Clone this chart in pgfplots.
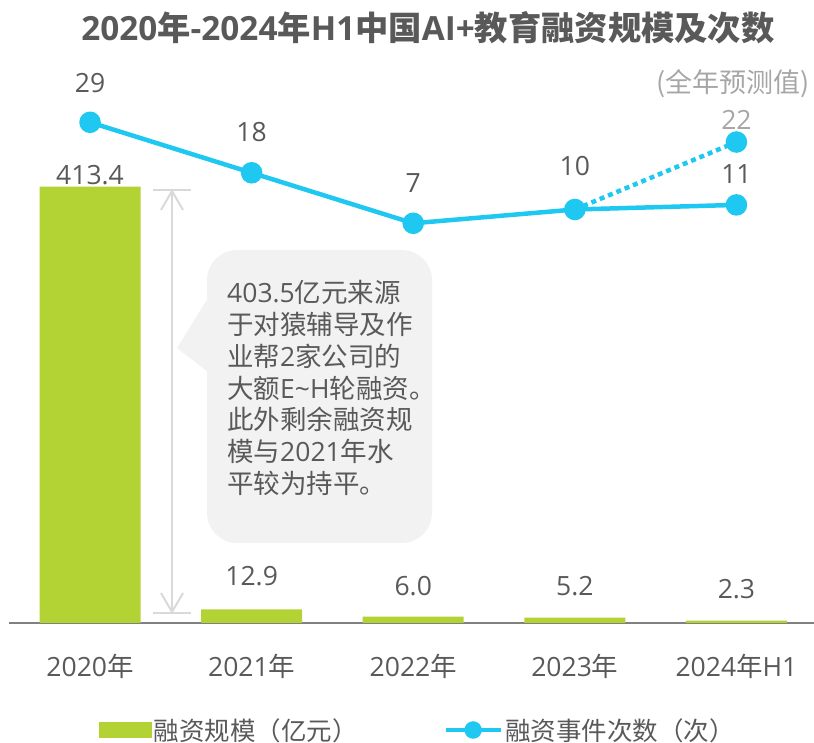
\documentclass[border=0pt]{standalone}
\usepackage{fontspec}
\setmainfont{Noto Sans CJK SC}
\newfontfamily\os{Open Sans}
\usepackage{pgfplots}
\pgfplotsset{compat=1.18}
\usepackage{pgfplotstable}
\definecolor{barc}{RGB}{179,210,52}
\definecolor{linec}{RGB}{30,200,240}
\definecolor{txt}{RGB}{89,89,89}
\definecolor{lgray}{RGB}{166,166,166}
\definecolor{annot}{RGB}{217,217,217}
\definecolor{bubble}{RGB}{242,242,242}
\definecolor{axgray}{RGB}{128,128,128}

\pgfplotstableread{
x y lab off
0 413.4 413.4 2.5
1 12.9 12.9 23.5
2 6.0 6.0 21.5
3 5.2 5.2 22.5
4 2.3 2.3 22.5
}\bars

\pgfplotstableread{
x y lab off
0 29 29 29.5
1 18 18 31.5
2 7 7 30.5
3 10 10 33.5
4 11 11 21.5
}\counts

\begin{document}
\begin{tikzpicture}
% bars
\begin{axis}[
  at={(9.25pt,119pt)}, anchor=south west,
  scale only axis, width=804.75pt, height=523pt,
  xmin=-0.5, xmax=4.48, ymin=0, ymax=495.5,
  axis x line*=bottom, axis y line=none,
  x axis line style={draw=axgray, line width=1.5pt, -},
  xtick={0,1,2,3,4},
  xticklabels={{\os 2020}年,{\os 2021}年,{\os 2022}年,{\os 2023}年,{\os 2024}年{\os H1}},
  major tick length=0pt,
  xticklabel style={font=\fontsize{26.5}{30}\selectfont, text=txt, anchor=base, yshift=-53pt},
  ytick=\empty,
  clip=false,
  ybar, bar width=101pt,
]
\addplot[fill=barc, draw=none,
  nodes near coords, point meta=explicit symbolic,
  visualization depends on={\thisrow{off} \as \myoff},
  every node near coord/.append style={anchor=base, yshift=\myoff pt,
    font=\fontsize{26.5}{30}\os, text=txt, inner sep=0pt}]
  table[x=x, y=y, meta=lab] {\bars};
\end{axis}
% counts
\begin{axis}[
  at={(9.25pt,119pt)}, anchor=south west,
  scale only axis, width=804.75pt, height=523pt,
  xmin=-0.5, xmax=4.48, ymin=-80.1, ymax=33.86,
  axis lines=none, xtick=\empty, ytick=\empty,
  clip=false,
  legend columns=2,
  legend style={at={(0.1115,-0.2046)}, anchor=west, draw=none, fill=none,
    inner sep=0pt, outer sep=0pt,
    font=\fontsize{25.5}{28}\selectfont, text=txt,
    nodes={inner sep=2.5pt},
    /tikz/every even column/.append style={column sep=83pt}},
]
\addlegendimage{legend image code/.code={\fill[barc] (0pt,-7.5pt) rectangle (52pt,7.5pt);}}
\addlegendentry{融资规模（亿元）}
\addlegendimage{legend image code/.code={\draw[linec, line width=4.5pt] (0pt,0pt) -- (55pt,0pt); \fill[linec] (27.5pt,0pt) circle (8.5pt);}}
\addlegendentry{融资事件次数（次）}
\addplot[linec, line width=4.5pt, dash pattern=on 5pt off 4pt, forget plot,
  mark=*, mark indices={2}, mark size=8.5pt, mark options={solid, draw=none, fill=linec},
  nodes near coords, point meta=explicit symbolic,
  every node near coord/.append style={anchor=base, yshift=12.5pt,
    font=\fontsize{26.5}{30}\os, text=lgray, inner sep=0pt}]
  coordinates {(3,10) [] (4,24.7) [22]};
\addplot[linec, line width=4.5pt, forget plot,
  mark=*, mark size=8.5pt, mark options={draw=none, fill=linec},
  nodes near coords, point meta=explicit symbolic,
  visualization depends on={\thisrow{off} \as \myoff},
  every node near coord/.append style={anchor=base, yshift=\myoff pt,
    font=\fontsize{26.5}{30}\os, text=txt, inner sep=0pt}]
  table[x=x, y=y, meta=lab] {\counts};
\end{axis}
% title
\node[font=\fontsize{33.3}{36}\selectfont\bfseries, text=txt, inner sep=0pt] at (428pt,714pt)
  {{\os 2020}年{\os -2024}年{\os H1}中国{\os AI+}教育融资规模及次数};
\node[font=\fontsize{27}{30}\selectfont, text=lgray, inner sep=0pt] at (733pt,658pt) {(全年预测值)};
% double arrow
\draw[annot, line width=2pt] (172pt,552pt) -- (172pt,129pt);
\draw[annot, line width=2pt] (153pt,552pt) -- (191pt,552pt);
\draw[annot, line width=2pt] (153pt,129pt) -- (191pt,129pt);
\draw[annot, line width=2pt] (161pt,532pt) -- (172pt,551pt) -- (183pt,532pt);
\draw[annot, line width=2pt] (161pt,149pt) -- (172pt,130pt) -- (183pt,149pt);
% bubble
\fill[bubble, rounded corners=30pt] (207pt,492pt) rectangle (432pt,199pt);
\fill[bubble] (208pt,444pt) -- (177pt,394pt) -- (208pt,370pt) -- cycle;
\begin{scope}[every node/.style={anchor=base west, inner sep=0pt, text=txt, font=\fontsize{26.5}{31}\selectfont}]
\node at (227pt,439pt) {{\os 403.5}亿元来源};
\node at (227pt,407.3pt) {于对猿辅导及作};
\node at (227pt,375.6pt) {业帮{\os 2}家公司的};
\node at (227pt,343.9pt) {大额{\os E\textasciitilde H}轮融资。};
\node at (227pt,312.2pt) {此外剩余融资规};
\node at (227pt,280.5pt) {模与{\os 2021}年水};
\node at (227pt,248.8pt) {平较为持平。};
\end{scope}
\pgfresetboundingbox
\useasboundingbox (0pt,0pt) rectangle (814pt,742pt);
\end{tikzpicture}
\end{document}
